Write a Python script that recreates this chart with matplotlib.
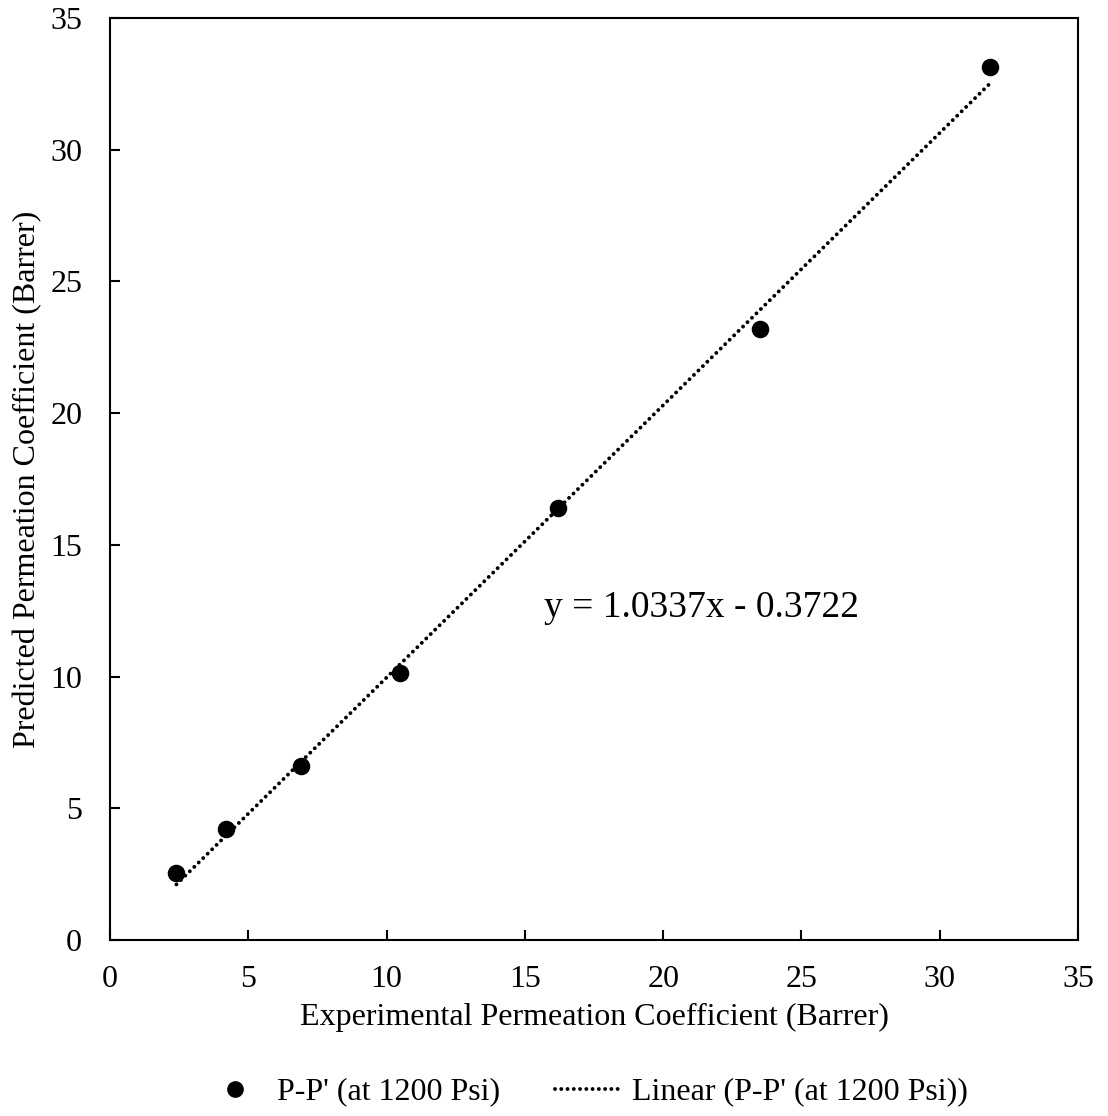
import matplotlib.pyplot as plt
import numpy as np
from matplotlib.lines import Line2D

plt.rcParams["font.family"] = ["Liberation Serif", "DejaVu Serif"]

# Experimental vs predicted permeation coefficients (Barrer)
experimental = [2.4, 4.2, 6.9, 10.5, 16.2, 23.5, 31.8]
predicted = [2.55, 4.2, 6.6, 10.15, 16.4, 23.2, 33.15]

slope = 1.0337
intercept = -0.3722

dotted = dict(color="black", linewidth=2.8, linestyle=(0, (0.01, 1.6)),
              dash_capstyle="round")

fig = plt.figure(figsize=(11.08, 11.16), dpi=100)
ax = fig.add_axes([0.0993, 0.1577, 0.8737, 0.8262])

ax.scatter(experimental, predicted, s=135, color="black", zorder=3)

x_fit = np.array([min(experimental), max(experimental)])
ax.plot(x_fit, slope * x_fit + intercept, zorder=2, **dotted)

ax.text(15.7, 12.6, f"y = {slope:.4f}x - {abs(intercept):.4f}",
        fontsize=27, va="center", ha="left")

ax.set_xlim(0, 35)
ax.set_ylim(0, 35)
ax.set_xticks(range(0, 36, 5))
ax.set_yticks(range(0, 36, 5))
ax.tick_params(direction="in", length=7, width=1.5, labelsize=23)
ax.tick_params(axis="x", pad=18)
ax.tick_params(axis="y", pad=20)
for side in ax.spines.values():
    side.set_linewidth(1.5)
    side.set_color("black")

ax.set_xlabel("Experimental Permeation Coefficient (Barrer)", fontsize=23)
ax.set_ylabel("Predicted Permeation Coefficient (Barrer)", fontsize=23)
ax.xaxis.label.set_va("center")
ax.yaxis.label.set_va("center")
ax.xaxis.set_label_coords(0.5, -0.0835)
ax.yaxis.set_label_coords(-0.0847, 0.5)

# Two legend entries placed side by side under the plot
leg_y = 0.0215
marker_handle = Line2D([], [], marker="o", color="black", linestyle="none", markersize=11)
line_handle = Line2D([], [], **dotted)
fig.legend([marker_handle], ["P-P' (at 1200 Psi)"], loc="center left",
           bbox_to_anchor=(0.1977, leg_y), frameon=False, fontsize=23,
           handlelength=1.0, handletextpad=0.8, borderpad=0, borderaxespad=0)
fig.legend([line_handle], ["Linear (P-P' (at 1200 Psi))"], loc="center left",
           bbox_to_anchor=(0.5009, leg_y), frameon=False, fontsize=23,
           handlelength=1.97, handletextpad=0.44, borderpad=0, borderaxespad=0)

fig.savefig("out.png", dpi=100)
